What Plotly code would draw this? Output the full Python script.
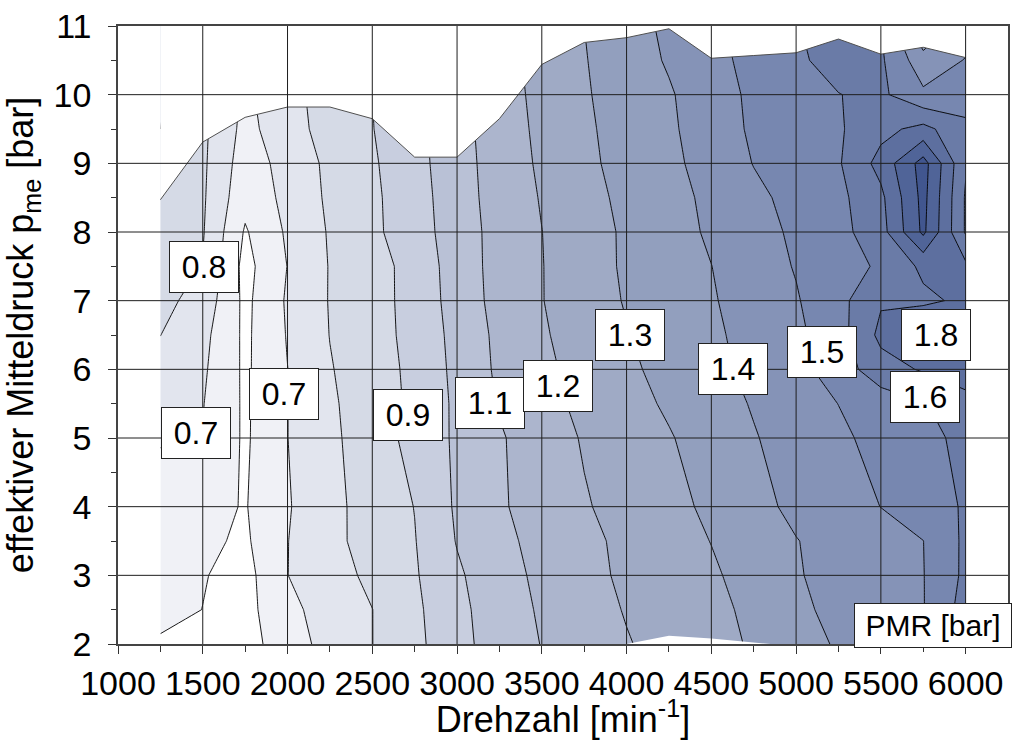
import plotly.graph_objects as go

# Engine speed grid [1/min] and mean effective pressure grid [bar]
speed = [1250, 1500, 1750, 2000, 2250, 2500, 2750, 3000, 3250, 3500,
         3750, 4000, 4250, 4500, 4750, 5000, 5250, 5500, 5750, 6000]
pme = [2.0, 2.5, 3.0, 3.5, 4.0, 5.0, 5.5, 6.0, 6.5, 7.0, 7.5, 8.0, 8.5,
       9.0, 9.5, 10.0, 10.5, 11.0]

# PMR [bar], one row per pme value, one column per speed value
pmr = [
    [0.585, 0.565, 0.560, 0.655, 0.734, 0.799, 0.874, 0.970, 1.044, 1.103, 1.148, 1.194, 1.232, 1.270, 1.310, 1.361, 1.410, 1.453, 1.495, 1.650],
    [0.635, 0.599, 0.568, 0.674, 0.743, 0.799, 0.880, 0.975, 1.050, 1.112, 1.160, 1.206, 1.241, 1.276, 1.320, 1.381, 1.424, 1.460, 1.496, 1.640],
    [0.645, 0.6055, 0.566, 0.699, 0.759, 0.822, 0.890, 0.986, 1.060, 1.122, 1.173, 1.216, 1.252, 1.287, 1.336, 1.393, 1.430, 1.464, 1.497, 1.620],
    [0.655, 0.619, 0.585, 0.698, 0.774, 0.838, 0.896, 1.005, 1.075, 1.130, 1.177, 1.221, 1.261, 1.302, 1.350, 1.397, 1.432, 1.465, 1.499, 1.619],
    [0.670, 0.630, 0.594, 0.692, 0.773, 0.840, 0.902, 1.014, 1.088, 1.142, 1.192, 1.233, 1.273, 1.318, 1.373, 1.420, 1.460, 1.501, 1.554, 1.610],
    [0.705, 0.697, 0.586, 0.699, 0.779, 0.853, 0.931, 1.016, 1.090, 1.152, 1.208, 1.251, 1.293, 1.343, 1.394, 1.439, 1.482, 1.530, 1.566, 1.630],
    [0.735, 0.704, 0.585, 0.699, 0.786, 0.851, 0.920, 1.019, 1.108, 1.169, 1.222, 1.267, 1.313, 1.360, 1.407, 1.454, 1.501, 1.546, 1.593, 1.660],
    [0.770, 0.715, 0.583, 0.699, 0.794, 0.855, 0.924, 1.025, 1.118, 1.179, 1.233, 1.282, 1.330, 1.376, 1.423, 1.469, 1.547, 1.660, 1.710, 1.760],
    [0.801, 0.728, 0.581, 0.706, 0.802, 0.860, 0.931, 1.030, 1.123, 1.189, 1.244, 1.295, 1.340, 1.384, 1.430, 1.478, 1.561, 1.724, 1.820, 1.820],
    [0.830, 0.760, 0.577, 0.712, 0.805, 0.862, 0.934, 1.041, 1.133, 1.197, 1.253, 1.307, 1.350, 1.392, 1.441, 1.492, 1.569, 1.690, 1.680, 1.720],
    [0.850, 0.796, 0.568, 0.702, 0.805, 0.862, 0.935, 1.047, 1.135, 1.197, 1.258, 1.313, 1.356, 1.399, 1.453, 1.506, 1.556, 1.615, 1.720, 1.720],
    [0.870, 0.8075, 0.590, 0.714, 0.809, 0.880, 0.955, 1.049, 1.136, 1.199, 1.258, 1.314, 1.363, 1.413, 1.464, 1.516, 1.568, 1.661, 1.920, 1.590],
    [0.880, 0.813, 0.630, 0.727, 0.817, 0.882, 0.958, 1.056, 1.141, 1.206, 1.268, 1.322, 1.369, 1.420, 1.478, 1.529, 1.575, 1.677, 1.930, 1.590],
    [0.890, 0.817, 0.650, 0.735, 0.822, 0.888, 0.966, 1.060, 1.145, 1.215, 1.279, 1.332, 1.378, 1.437, 1.503, 1.547, 1.590, 1.734, 1.940, 1.610],
    [0.900, 0.820, 0.670, 0.759, 0.839, 0.897, 0.970, 1.065, 1.149, 1.222, 1.285, 1.336, 1.384, 1.452, 1.514, 1.551, 1.588, 1.671, 1.730, 1.625],
    [0.910, 0.830, 0.680, 0.770, 0.840, 0.900, 0.980, 1.070, 1.155, 1.228, 1.291, 1.341, 1.390, 1.458, 1.518, 1.558, 1.598, 1.620, 1.518, 1.550],
    [0.915, 0.835, 0.690, 0.775, 0.845, 0.905, 0.985, 1.075, 1.158, 1.237, 1.295, 1.352, 1.410, 1.470, 1.529, 1.586, 1.630, 1.615, 1.440, 1.505],
    [0.920, 0.840, 0.700, 0.780, 0.850, 0.910, 0.990, 1.080, 1.160, 1.245, 1.300, 1.360, 1.420, 1.480, 1.540, 1.595, 1.640, 1.600, 1.300, 1.450],
]

# Full-load limit of the measured map
limit_speed = [1250, 1500, 1750, 2000, 2250, 2500, 2750, 3000, 3250, 3500,
               3750, 4000, 4250, 4500, 4750, 5000, 5250, 5500, 5750, 6000]
limit_pme = [8.47, 9.31, 9.67, 9.82, 9.82, 9.65, 9.09, 9.09, 9.65, 10.44,
             10.76, 10.83, 10.96, 10.53, 10.57, 10.61, 10.81, 10.59, 10.69, 10.54]

# Lowest measured load in the mid-speed range
low_speed = [4000, 4250, 4500, 4750, 4850]
low_pme = [2.0, 2.12, 2.08, 2.03, 2.0]

# Contour labels
label_text = ["0.8", "0.7", "0.7", "0.9", "1.1", "1.2", "1.3", "1.4", "1.5", "1.8", "1.6"]
label_speed = [1507, 1458, 1977, 2708, 3197, 3597, 4019, 4627, 5152, 5823, 5761]
label_pme = [7.49, 5.08, 5.635, 5.335, 5.51, 5.755, 6.5, 6.0, 6.25, 6.5, 5.6]

x_ticks = [1000, 1500, 2000, 2500, 3000, 3500, 4000, 4500, 5000, 5500, 6000]
y_ticks = [2, 3, 4, 5, 6, 7, 8, 9, 10, 11]

# One colour per band: <0.6, 0.6-0.7, ..., 1.8-1.9, >1.9
band_colors = ["#ffffff", "#f0f1f6", "#e2e5ee", "#d5dae6", "#c8cedf", "#b9c1d6",
               "#acb5cd", "#9faac5", "#929fbe", "#8593b7", "#7787b0", "#6a7ba7",
               "#5d6f9f", "#506498", "#41568f"]
n = len(band_colors) - 1
colorscale = [[i / n, c] for i, c in enumerate(band_colors)]

FONT = "Liberation Sans, Arial, sans-serif"

fig = go.Figure()

fig.add_trace(go.Contour(
    x=speed, y=pme, z=pmr,
    colorscale=colorscale,
    autocontour=False,
    contours=dict(start=0.6, end=1.9, size=0.1, coloring="fill", showlines=True),
    line=dict(color="rgba(0,0,0,0.9)", width=1, smoothing=0),
    showscale=False,
    hoverinfo="skip",
))

# Blank out everything above the full-load limit
mask_x = [limit_speed[0]] + limit_speed + [limit_speed[-1]]
mask_y = [11.0] + limit_pme + [11.0]
mask_x += [None] + low_speed
mask_y += [None] + low_pme
fig.add_trace(go.Scatter(
    x=mask_x, y=mask_y, mode="lines", fill="toself",
    fillcolor="white", line=dict(width=0, color="white"),
    hoverinfo="skip", showlegend=False,
))

# Full-load curve outline
fig.add_trace(go.Scatter(
    x=limit_speed, y=limit_pme, mode="lines",
    line=dict(color="#505050", width=1),
    hoverinfo="skip", showlegend=False,
))

# Grid drawn on top of the filled map
shapes = []
for xv in x_ticks[1:]:
    shapes.append(dict(type="line", xref="x", yref="y", x0=xv, x1=xv, y0=2, y1=11,
                       line=dict(color="#1e1e1e", width=1), layer="above"))
for yv in y_ticks[1:-1]:
    shapes.append(dict(type="line", xref="x", yref="y", x0=1000, x1=6250, y0=yv, y1=yv,
                       line=dict(color="#1e1e1e", width=1), layer="above"))

annotations = []
for t, xs, ys in zip(label_text, label_speed, label_pme):
    annotations.append(dict(
        x=xs, y=ys, xref="x", yref="y", text=t, showarrow=False,
        font=dict(family=FONT, size=32, color="black"),
        bgcolor="white", bordercolor="#222", borderwidth=1,
        width=66, height=48, align="center", valign="middle",
    ))
annotations.append(dict(
    x=5806, y=2.27, xref="x", yref="y", text="PMR [bar]", showarrow=False,
    font=dict(family=FONT, size=30, color="black"),
    bgcolor="white", bordercolor="#222", borderwidth=1,
    width=154, height=41, align="center", valign="middle",
))

fig.update_layout(
    width=1017, height=740,
    margin=dict(l=118, r=7, t=25, b=95),
    paper_bgcolor="white", plot_bgcolor="white",
    font=dict(family=FONT, color="black"),
    shapes=shapes,
    annotations=annotations,
    showlegend=False,
    xaxis=dict(
        range=[1000, 6250], tickmode="array", tickvals=x_ticks,
        ticks="outside", ticklen=8, tickwidth=1, tickcolor="#333",
        tickfont=dict(size=34, family=FONT, color="black"),
        showgrid=False, zeroline=False,
        showline=True, mirror=True, linecolor="#444", linewidth=1.5,
        minor=dict(tickvals=[1250, 1750, 2250, 2750, 3250, 3750, 4250, 4750, 5250, 5750],
                   ticks="outside", ticklen=6, tickcolor="#333", showgrid=False),
        title=dict(text="Drehzahl [min<sup>-1</sup>]",
                   font=dict(size=36, family=FONT, color="black"), standoff=6),
        layer="above traces",
    ),
    yaxis=dict(
        range=[2, 11], tickmode="array", tickvals=y_ticks,
        ticks="outside", ticklen=8, tickwidth=1, tickcolor="#333",
        tickfont=dict(size=34, family=FONT, color="black"),
        ticklabelstandoff=10,
        showgrid=False, zeroline=False,
        showline=True, mirror=True, linecolor="#444", linewidth=1.5,
        minor=dict(dtick=0.5, tick0=2, ticks="outside", ticklen=5, tickcolor="#333",
                   showgrid=False),
        title=dict(text="effektiver Mitteldruck p<sub>me</sub> [bar]",
                   font=dict(size=36, family=FONT, color="black"), standoff=10),
        layer="above traces",
    ),
)

fig.write_html("out.html")
